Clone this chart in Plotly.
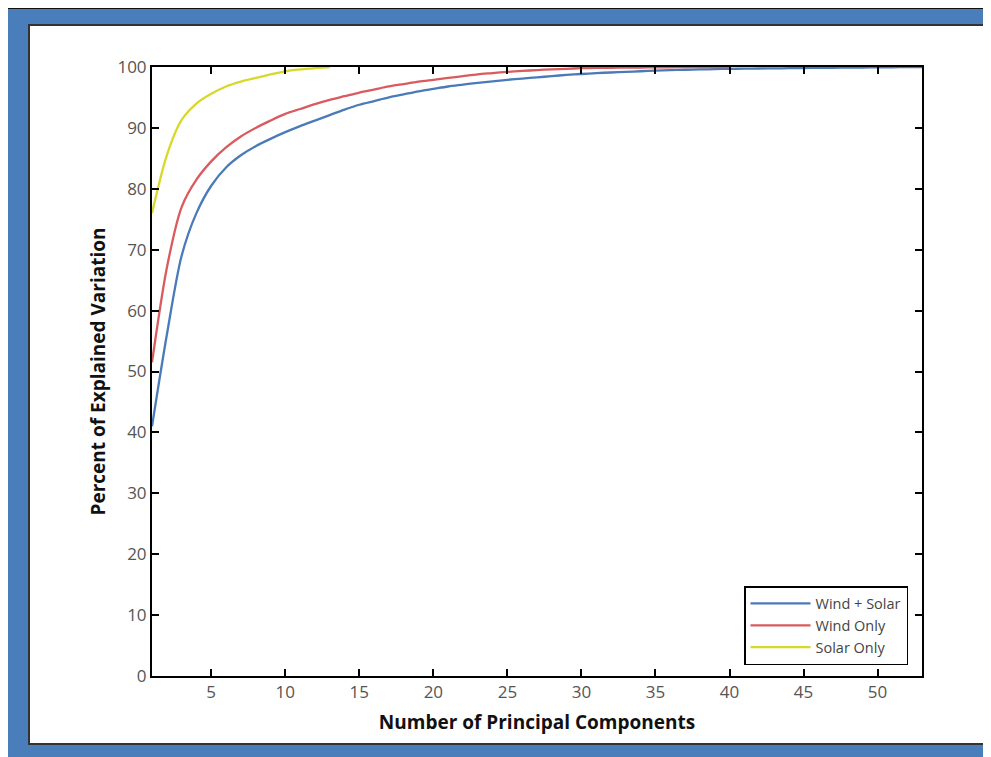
import plotly.graph_objects as go

# ---- data ----
x_wind_solar = list(range(1, 54))
y_wind_solar = [41, 56, 69, 76, 80.5, 83.5, 85.5, 87, 88.2, 89.3,
                90.3, 91.2, 92.1, 93, 93.8, 94.4, 95, 95.5, 96, 96.4,
                96.8, 97.1, 97.4, 97.65, 97.9, 98.1, 98.3, 98.5, 98.7, 98.85,
                99, 99.1, 99.2, 99.3, 99.4, 99.5, 99.55, 99.6, 99.65, 99.7,
                99.72, 99.75, 99.78, 99.8, 99.83, 99.86, 99.88, 99.9, 99.92, 99.94,
                99.96, 99.98, 100]

x_wind = list(range(1, 41))
y_wind = [51.5, 67, 77, 81.5, 84.5, 86.8, 88.6, 90, 91.2, 92.3,
          93.1, 93.9, 94.6, 95.2, 95.8, 96.3, 96.8, 97.2, 97.6, 97.9,
          98.2, 98.5, 98.8, 99, 99.2, 99.35, 99.5, 99.6, 99.7, 99.8,
          99.85, 99.88, 99.9, 99.92, 99.94, 99.96, 99.97, 99.98, 99.99, 100]

x_solar = list(range(1, 14))
y_solar = [76, 85.5, 91.3, 94, 95.6, 96.8, 97.6, 98.2, 98.8, 99.3, 99.6, 99.8, 100]

series_names = ["Wind + Solar", "Wind Only", "Solar Only"]
series_colors = ["#4a7ab8", "#d95b5e", "#d8d82c"]

x_ticks = [5, 10, 15, 20, 25, 30, 35, 40, 45, 50]
y_ticks = [0, 10, 20, 30, 40, 50, 60, 70, 80, 90, 100]

# page has an 8px body margin: figure origin is at window (8, 8)
OFF = 8
W, H = 991 - OFF, 757 - OFF
L, R, T, B = 152 - OFF, 922 - OFF, 67 - OFF, 676 - OFF


def px_x(p):  # window pixel -> paper fraction
    return (p - OFF - L) / (R - L)


def px_y(p):
    return (B - (p - OFF)) / (B - T)


fig = go.Figure()
for xs, ys, name, col in zip([x_wind_solar, x_wind, x_solar],
                             [y_wind_solar, y_wind, y_solar],
                             series_names, series_colors):
    fig.add_trace(go.Scatter(x=xs, y=ys, mode="lines", name=name,
                             line=dict(color=col, width=2.3, shape="spline",
                                       smoothing=0.8)))

shapes = [
    dict(type="rect", xref="paper", yref="paper", layer="below",
         x0=px_x(7), x1=px_x(1000), y0=px_y(8), y1=px_y(770),
         fillcolor="#4a7ebb", line=dict(color="#111111", width=2)),
    dict(type="rect", xref="paper", yref="paper", layer="below",
         x0=px_x(29), x1=px_x(985), y0=px_y(25), y1=px_y(744),
         fillcolor="white", line=dict(color="#333333", width=2)),
]

axis_common = dict(showline=True, linecolor="black", linewidth=2,
                   mirror="ticks", ticks="inside", ticklen=7, tickwidth=2,
                   tickcolor="black", showgrid=False, zeroline=False,
                   tickfont=dict(family="Open Sans", size=17, color="#555555"))

fig.update_layout(
    width=W, height=H,
    margin=dict(l=L, r=W - R, t=T, b=H - B),
    paper_bgcolor="#4a7ebb", plot_bgcolor="white",
    shapes=shapes,
    showlegend=True,
    legend=dict(x=px_x(908), y=px_y(586), xanchor="right", yanchor="top",
                bgcolor="white", bordercolor="black", borderwidth=1.5,
                font=dict(family="Open Sans", size=14.5, color="#444444"),
                itemwidth=60, tracegroupgap=0),
    xaxis=dict(range=[1, 53], tickvals=x_ticks,
               title=dict(text="<b>Number of Principal Components</b>",
                          font=dict(family="Open Sans", size=19, color="#111111"),
                          standoff=13),
               **axis_common),
    yaxis=dict(range=[0, 100], tickvals=y_ticks,
               title=dict(text="<b>Percent of Explained Variation</b>",
                          font=dict(family="Open Sans", size=19, color="#111111"),
                          standoff=7),
               **axis_common),
)

fig.write_html("out.html")
